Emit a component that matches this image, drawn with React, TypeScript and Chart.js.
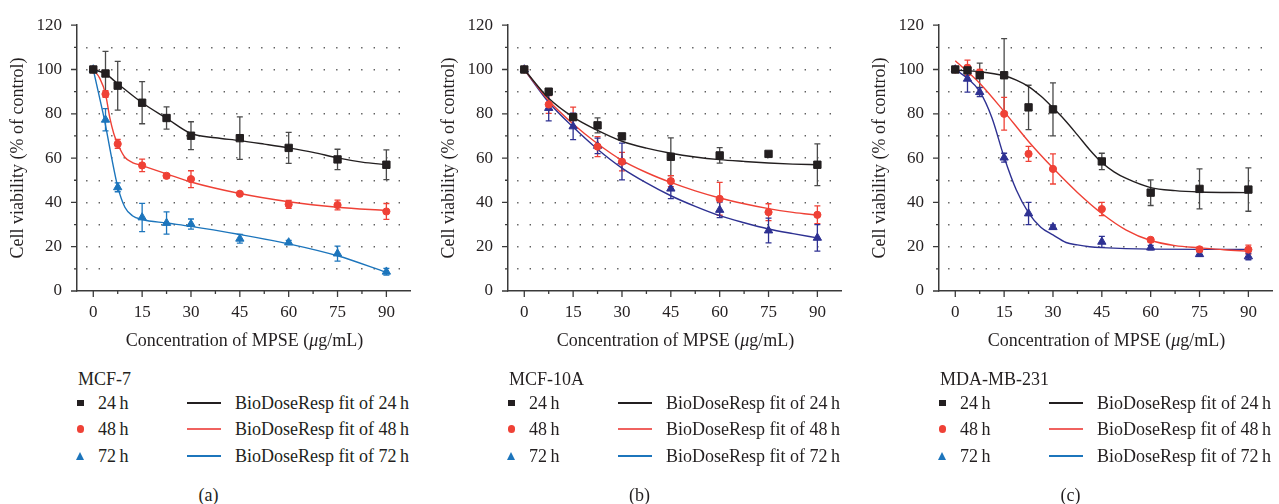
import React, { useEffect, useRef } from 'react';
import { Chart, registerables } from 'chart.js';

Chart.register(...registerables);

const FONT = "'Liberation Serif', 'Times New Roman', serif";
const INK = '#231f20';
const AXIS = '#3a3a3a';
const GRID = '#5e5e5e';
const RED = '#ef4136';
const BLUE_A = '#1c75bc';
const BLUE_BC = '#2e3192';
const LEG_RED = '#f0625f';
const LEG_BLUE = '#1c75bc';

// axes
const X_TICKS = [0, 15, 30, 45, 60, 75, 90];
const X_MINOR = [7.5, 22.5, 37.5, 52.5, 67.5, 82.5];
const Y_MAJOR = [0, 20, 40, 60, 80, 100, 120];
const Y_MINOR = [10, 30, 50, 70, 90, 110];

// doses
const DOSE_AC = [0, 3.75, 7.5, 15, 22.5, 30, 45, 60, 75, 90];
const DOSE_B = [0, 7.5, 15, 22.5, 30, 45, 60, 75, 90];

// (a) MCF-7
const A_24 = [100, 98.2, 92.7, 85.0, 78.1, 70.1, 69.0, 64.6, 59.4, 57.0];
const A_24_ERR = [0.5, 10, 11, 9.5, 5, 6.3, 9.6, 7, 4.6, 6.7];
const A_48 = [100, 88.9, 66.4, 56.7, 52.0, 50.5, 43.9, 39.1, 38.8, 35.9];
const A_48_ERR = [0.5, 1.5, 2, 2.8, 1, 3.8, 0.8, 1.8, 2.2, 3.6];
const A_72 = [100, 77.3, 46.8, 33.2, 30.7, 30.2, 23.6, 21.9, 16.9, 8.7];
const A_72_ERR = [0.5, 5, 2, 6.4, 5, 2.3, 2, 1, 3.4, 1.5];
const A_FIT24_X = [0, 3.75, 7.5, 15, 22.5, 30, 37.5, 45, 52.5, 60, 67.5, 75, 82.5, 90];
const A_FIT24_Y = [100, 98, 93.6, 85, 78, 71.1, 69.2, 67.9, 66.3, 64.6, 62.6, 60.1, 58.2, 57.0];
const A_FIT48_X = [0, 2, 3.75, 5.1, 6.3, 7.5, 9.7, 12, 15, 22.5, 30, 45, 60, 75, 90];
const A_FIT48_Y = [100, 96, 89, 78, 71, 66.4, 60.4, 58, 56.6, 52.9, 49.2, 44, 40.3, 37.8, 36.3];
const A_FIT72_X = [0, 1.5, 3.4, 5.6, 7.5, 9.7, 12, 15, 22.5, 30, 45, 60, 75, 90];
const A_FIT72_Y = [100, 90.1, 77.5, 60.4, 47.1, 37.8, 34, 32.3, 30.7, 29.2, 25.5, 21.3, 15.9, 8.4];

// (b) MCF-10A
const B_24 = [100, 90.0, 78.5, 74.8, 69.8, 60.6, 61.2, 61.9, 57.0];
const B_24_ERR = [0.5, 1, 1.5, 3.4, 1, 8.5, 3.5, 1, 9.4];
const B_48 = [100, 84.2, 78.5, 65.2, 58.4, 49.6, 41.6, 35.6, 34.4];
const B_48_ERR = [0.5, 4, 4.5, 4.5, 4.2, 2.5, 7.4, 3.8, 4];
const B_72 = [100, 82.6, 74.3, 65.5, 58.5, 46.2, 36.6, 27.3, 24.0];
const B_72_ERR = [1, 5.8, 6, 3.5, 8.3, 4.5, 3.5, 5.6, 6];
const B_FIT_X = [0, 7.5, 15, 22.5, 30, 37.5, 45, 52.5, 60, 67.5, 75, 82.5, 90];
const B_FIT24_Y = [100, 87, 78.5, 72.5, 67.6, 64.5, 62.2, 60.5, 59.3, 58.5, 57.8, 57.3, 57];
const B_FIT48_Y = [100, 86, 75.4, 66.5, 59, 53.5, 49, 45.2, 42, 39.4, 37.2, 35.5, 34.2];
const B_FIT72_Y = [100, 85.2, 74, 64, 55.5, 48.8, 43, 38.2, 34, 30.8, 28, 25.9, 24];

// (c) MDA-MB-231
const C_24 = [100, 99.6, 97.4, 97.4, 82.9, 82.0, 58.5, 44.4, 46.1, 45.8];
const C_24_ERR = [0.5, 1, 5.5, 16.5, 10, 12, 3.7, 5.8, 9, 9.8];
const C_48 = [100, 100.8, 98.6, 80.0, 61.9, 55.1, 37.0, 23.1, 18.8, 18.7];
const C_48_ERR = [0.5, 3.4, 1.5, 7.4, 3.4, 6.8, 3, 1, 1, 2];
const C_72 = [100, 95.8, 89.8, 60.2, 35.0, 28.8, 22.2, 19.6, 16.6, 15.6];
const C_72_ERR = [0.5, 6, 2, 2, 5, 1, 2.5, 1, 1, 1.5];
const C_FIT24_X = [0, 7.5, 15, 18.75, 22.5, 26.25, 30, 33.75, 37.5, 41.25, 45, 48.75, 52.5, 60, 67.5, 75, 90];
const C_FIT24_Y = [99.7, 99, 97.2, 95.2, 92.3, 88, 82.7, 77, 70.5, 63.8, 58, 53.8, 50.8, 46.7, 45.3, 44.7, 44.4];
const C_FIT48_X = [0, 7.5, 15, 22.5, 30, 37.5, 45, 52.5, 60, 67.5, 75, 82.5, 90];
const C_FIT48_Y = [104, 93.8, 81, 67.5, 55.5, 44.5, 35, 27.5, 22.8, 20.5, 19.5, 18.6, 18];
const C_FIT72_X = [0, 3.75, 7.5, 11.25, 15, 18.75, 22.5, 26.25, 30, 34, 37.5, 41.25, 45, 60, 75, 90];
const C_FIT72_Y = [100, 96, 90.1, 78.2, 60.4, 45.6, 35.3, 28.8, 25.3, 21.9, 20.8, 20, 19.6, 18.9, 18.8, 18.8];

const CELL_LINES = ['MCF-7', 'MCF-10A', 'MDA-MB-231'];
const CAPTIONS = ['(a)', '(b)', '(c)'];
const TIMES = ['24\u2009h', '48\u2009h', '72\u2009h'];
const PANEL_LEFT = [0, 431, 862];

type Series = {
  x: number[]; y: number[]; err: number[];
  fitX: number[]; fitY: number[];
  color: string; style: 'rect' | 'circle' | 'triangle'; radius: number; errColor: string;
};

function makeSeries(blue: string, d: number[], v: number[][], e: number[][], fx: number[][], fy: number[][]): Series[] {
  const colors = [INK, RED, blue];
  const styles: Series['style'][] = ['rect', 'circle', 'triangle'];
  const radii = [5.2, 3.6, 4.8];
  const errColors = ['#4a4a4a', RED, blue];
  return [0, 1, 2].map((k) => ({
    x: d, y: v[k], err: e[k], fitX: fx[k], fitY: fy[k],
    color: colors[k], style: styles[k], radius: radii[k], errColor: errColors[k],
  }));
}

const PANELS: Series[][] = [
  makeSeries(BLUE_A, DOSE_AC, [A_24, A_48, A_72], [A_24_ERR, A_48_ERR, A_72_ERR],
    [A_FIT24_X, A_FIT48_X, A_FIT72_X], [A_FIT24_Y, A_FIT48_Y, A_FIT72_Y]),
  makeSeries(BLUE_BC, DOSE_B, [B_24, B_48, B_72], [B_24_ERR, B_48_ERR, B_72_ERR],
    [B_FIT_X, B_FIT_X, B_FIT_X], [B_FIT24_Y, B_FIT48_Y, B_FIT72_Y]),
  makeSeries(BLUE_BC, DOSE_AC, [C_24, C_48, C_72], [C_24_ERR, C_48_ERR, C_72_ERR],
    [C_FIT24_X, C_FIT48_X, C_FIT72_X], [C_FIT24_Y, C_FIT48_Y, C_FIT72_Y]),
];

const errorBarPlugin = {
  id: 'errorBars',
  beforeDatasetsDraw(chart: any) {
    const { ctx } = chart;
    const yS = chart.scales.y;
    chart.data.datasets.forEach((ds: any, i: number) => {
      if (!ds.errors) return;
      const meta = chart.getDatasetMeta(i);
      ctx.save();
      ctx.strokeStyle = ds.errorColor;
      ctx.lineWidth = 1.3;
      meta.data.forEach((pt: any, j: number) => {
        const e = ds.errors[j];
        if (!e || e < 1) return;
        const v = ds.data[j].y;
        const top = yS.getPixelForValue(v + e);
        const bot = yS.getPixelForValue(v - e);
        ctx.beginPath();
        ctx.moveTo(pt.x, top); ctx.lineTo(pt.x, bot);
        ctx.moveTo(pt.x - 3, top); ctx.lineTo(pt.x + 3, top);
        ctx.moveTo(pt.x - 3, bot); ctx.lineTo(pt.x + 3, bot);
        ctx.stroke();
      });
      ctx.restore();
    });
  },
};

const tickPlugin = {
  id: 'axisTicks',
  afterDraw(chart: any) {
    const { ctx, chartArea } = chart;
    const xS = chart.scales.x;
    const yS = chart.scales.y;
    ctx.save();
    ctx.strokeStyle = AXIS;
    ctx.lineWidth = 1.3;
    ctx.beginPath();
    const yt = (v: number, len: number) => {
      const p = yS.getPixelForValue(v);
      ctx.moveTo(chartArea.left, p); ctx.lineTo(chartArea.left - len, p);
    };
    const xt = (v: number, len: number) => {
      const p = xS.getPixelForValue(v);
      ctx.moveTo(p, chartArea.bottom); ctx.lineTo(p, chartArea.bottom + len);
    };
    Y_MAJOR.forEach((v) => yt(v, 6));
    Y_MINOR.forEach((v) => yt(v, 3));
    X_TICKS.forEach((v) => xt(v, 6));
    X_MINOR.forEach((v) => xt(v, 3));
    ctx.stroke();
    ctx.restore();
  },
};

function Panel({ series, left, idx }: { series: Series[]; left: number; idx: number }) {
  const ref = useRef<HTMLCanvasElement | null>(null);
  useEffect(() => {
    if (!ref.current) return;
    const datasets: any[] = [];
    series.forEach((s) => {
      datasets.push({
        type: 'scatter',
        data: s.x.map((v, i) => ({ x: v, y: s.y[i] })),
        pointStyle: s.style,
        pointRadius: s.radius,
        pointBackgroundColor: s.color,
        pointBorderColor: s.color,
        pointBorderWidth: 1,
        showLine: false,
        order: 0,
        errors: s.err,
        errorColor: s.errColor,
      });
    });
    series.forEach((s) => {
      datasets.push({
        type: 'line',
        data: s.fitX.map((v, i) => ({ x: v, y: s.fitY[i] })),
        borderColor: s.color,
        borderWidth: 1.4,
        pointRadius: 0,
        fill: false,
        cubicInterpolationMode: 'monotone',
        order: 1,
      });
    });
    const tickFont = { family: FONT, size: 17 };
    const chart = new Chart(ref.current, {
      type: 'scatter',
      data: { datasets },
      options: {
        responsive: false,
        animation: false,
        events: [],
        layout: { padding: { top: 21, right: 5, left: 0, bottom: 0 } },
        plugins: { legend: { display: false }, tooltip: { enabled: false } },
        scales: {
          x: {
            type: 'linear',
            min: -5,
            max: 97.5,
            afterBuildTicks: (s: any) => { s.ticks = X_TICKS.map((v) => ({ value: v })); },
            afterFit: (s: any) => { s.height = 61; },
            ticks: { font: tickFont, color: INK, padding: 11, maxRotation: 0, autoSkip: false },
            grid: { display: false, drawTicks: false, drawOnChartArea: false },
            border: { display: true, color: AXIS, width: 1.5 },
          },
          y: {
            type: 'linear',
            min: 0,
            max: 120,
            afterBuildTicks: (s: any) => {
              s.ticks = [...Y_MAJOR, ...Y_MINOR].sort((a, b) => a - b).map((v) => ({ value: v }));
            },
            afterFit: (s: any) => { s.width = 77; },
            ticks: {
              font: tickFont, color: INK, padding: 15, autoSkip: false,
              callback: (v: any) => (Y_MAJOR.includes(Number(v)) ? String(v) : ''),
            },
            grid: {
              display: true,
              drawTicks: false,
              drawOnChartArea: true,
              lineWidth: 1.4,
              color: (c: any) => (c.tick && (c.tick.value === 0 || c.tick.value === 120) ? 'rgba(0,0,0,0)' : GRID),
            },
            border: { display: true, color: AXIS, width: 1.5, dash: [1.4, 11.1], dashOffset: 3.9 },
            title: {
              display: true,
              text: 'Cell viability (% of control)',
              font: { family: FONT, size: 18 },
              color: INK,
              padding: { top: 7, bottom: 0 },
            },
          },
        },
      } as any,
      plugins: [errorBarPlugin, tickPlugin],
    });
    return () => chart.destroy();
  }, [series]);

  const legColors = [INK, LEG_RED, LEG_BLUE];
  const rowY = [403, 429, 456];
  const marker = (k: number) => {
    if (k === 0) return <div style={{ width: 6.5, height: 6.5, background: INK, marginLeft: -3.25, marginTop: -3.25 }} />;
    if (k === 1) return <div style={{ width: 7.5, height: 7.5, borderRadius: '50%', background: RED, marginLeft: -3.75, marginTop: -3.75 }} />;
    return (
      <div style={{ width: 0, height: 0, borderLeft: '4.8px solid transparent', borderRight: '4.8px solid transparent', borderBottom: `8px solid ${LEG_BLUE}`, marginLeft: -4.8, marginTop: -4.5 }} />
    );
  };
  const text = (l: number, cy: number, t: React.ReactNode, extra: any = {}) => (
    <div style={{ position: 'absolute', left: l, top: cy - 11, height: 22, lineHeight: '22px', fontSize: 18, whiteSpace: 'nowrap', ...extra }}>{t}</div>
  );

  return (
    <div style={{ position: 'absolute', left, top: 0, width: 417, height: 504 }}>
      <canvas ref={ref} width={417} height={352} style={{ position: 'absolute', left: 0, top: 0, width: 417, height: 352 }} />
      {text(44.5, 339.5, <span>Concentration of MPSE (<i>μ</i>g/mL)</span>, { width: 400, textAlign: 'center' })}
      {text(78, 378.5, CELL_LINES[idx])}
      {TIMES.map((t, k) => (
        <React.Fragment key={k}>
          <div style={{ position: 'absolute', left: 80.5, top: rowY[k] }}>{marker(k)}</div>
          {text(98, rowY[k], t)}
          <div style={{ position: 'absolute', left: 187, top: rowY[k] - 1, width: 34, height: 2, background: legColors[k] }} />
          {text(235, rowY[k], `BioDoseResp fit of ${t}`)}
        </React.Fragment>
      ))}
      {text(108.5, 494.5, CAPTIONS[idx], { width: 200, textAlign: 'center' })}
    </div>
  );
}

export default function App() {
  return (
    <div style={{ position: 'absolute', left: 0, top: 0, width: 1279, height: 504, background: '#ffffff', overflow: 'hidden', fontFamily: FONT, color: INK }}>
      {PANELS.map((s, k) => (
        <Panel key={k} series={s} left={PANEL_LEFT[k]} idx={k} />
      ))}
    </div>
  );
}
